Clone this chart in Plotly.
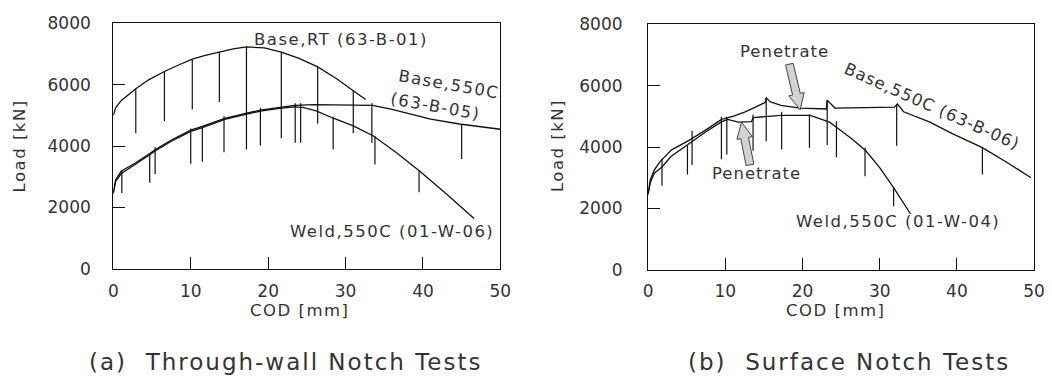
import math
import plotly.graph_objects as go

# ---------------- (a) Through-wall Notch Tests ----------------
a_rt_cod = [0, 0.3, 1.0, 2.0, 2.9, 4.5, 6.6, 8.5, 10.2, 12.0, 13.7, 15.5, 17.2, 19.5, 21.7, 24.0, 26.4, 28.8, 31.0, 32.6]
a_rt_load = [5000, 5250, 5480, 5700, 5870, 6150, 6430, 6650, 6830, 6960, 7070, 7170, 7230, 7200, 7060, 6860, 6580, 6200, 5800, 5520]

a_b550_cod = [0, 0.3, 1.0, 2.0, 2.9, 4.7, 5.5, 7.5, 10.0, 11.5, 14.4, 17.5, 19.2, 21.5, 23.4, 26.0, 29.0, 31.0, 33.5, 36.0, 38.7, 41.0, 44.7, 47.0, 50.0]
a_b550_load = [2500, 2900, 3180, 3330, 3460, 3760, 3900, 4200, 4520, 4640, 4900, 5090, 5180, 5260, 5330, 5350, 5350, 5340, 5330, 5200, 5030, 4880, 4720, 4640, 4550]

a_weld_cod = [0, 0.3, 1.0, 2.0, 2.9, 4.7, 5.5, 7.5, 10.0, 11.5, 14.4, 17.5, 19.2, 21.5, 23.4, 24.5, 26.2, 28.5, 31.0, 33.6, 36.5, 39.6, 43.0, 46.6]
a_weld_load = [2450, 2850, 3100, 3280, 3420, 3720, 3860, 4160, 4480, 4600, 4870, 5060, 5150, 5230, 5280, 5260, 5150, 4900, 4660, 4330, 3800, 3180, 2450, 1640]

a_unload_cod = [2.9, 6.6, 10.2, 13.7, 17.2, 21.7, 26.4, 31.0,
                1.1, 4.7, 5.4, 10.0, 11.5, 14.3, 19.0, 23.5, 24.2, 28.4, 33.4, 33.8, 39.5, 45.0]
a_unload_top = [5870, 6430, 6830, 7070, 7230, 7060, 6580, 5800,
                3190, 3760, 3960, 4570, 4640, 4970, 5250, 5400, 5400, 4960, 5400, 4330, 3180, 4720]
a_unload_bot = [4420, 4820, 5190, 5440, 3890, 4260, 4730, 4420,
                2470, 2810, 3090, 3430, 3490, 3800, 4020, 4110, 4110, 3890, 4110, 3400, 2500, 3580]

# ---------------- (b) Surface Notch Tests ----------------
b_b550_cod = [0, 0.3, 0.8, 1.5, 3.0, 5.3, 7.5, 9.5, 11.0, 12.5, 13.9, 15.2, 15.3, 15.8, 17.2, 19.7, 23.1, 23.2, 24.2, 28.0, 31.9, 32.3, 33.1, 36.5, 39.4, 43.3, 46.5, 49.6]
b_b550_load = [2500, 2950, 3250, 3510, 3900, 4220, 4560, 4900, 5000, 5140, 5300, 5460, 5610, 5480, 5360, 5270, 5240, 5530, 5270, 5290, 5300, 5400, 5150, 4810, 4440, 3980, 3500, 3000]

b_weld_cod = [0, 0.3, 0.8, 1.8, 3.0, 5.3, 7.5, 9.5, 10.3, 11.7, 13.4, 13.6, 17.2, 21.0, 23.5, 24.7, 26.5, 28.2, 30.0, 31.8, 34.0]
b_weld_load = [2450, 2850, 3150, 3350, 3700, 4110, 4500, 4820, 4900, 4810, 4830, 4960, 5030, 5030, 4810, 4590, 4250, 3880, 3330, 2680, 1820]

b_unload_cod = [1.8, 5.1, 5.7, 9.5, 10.2, 13.6, 15.3, 17.3, 20.9, 23.2, 24.4, 28.1, 31.8, 32.2, 43.3]
b_unload_top = [3610, 4040, 4530, 4990, 4990, 5060, 5610, 5150, 5060, 5520, 4840, 3980, 2680, 5400, 3980]
b_unload_bot = [2740, 3110, 3420, 3600, 3760, 3880, 4190, 3920, 3980, 4070, 3670, 3050, 2070, 4040, 3110]

# "Penetrate" arrows in panel (b): (tail COD, tail load, head COD, head load)
b_penetrate_arrows = [(18.3, 6700, 19.7, 5210), (13.2, 3420, 12.1, 4810)]

x_ticks = [0, 10, 20, 30, 40, 50]
y_ticks = [0, 2000, 4000, 6000, 8000]

FONT = "DejaVu Sans"
TXT = "#333333"
LINE = "#111111"

W, H = 1052, 389
A_X = (110, 503)
A_Y = (273, 14)   # pixel rows of load 0 and 8000
B_X = (653, 1045)
B_Y = (274, 15)


def ls(s, px=1.5):
    return '<span style="letter-spacing:%spx">%s</span>' % (px, s)


def segments(xs, tops, bots):
    X, Y = [], []
    for x, t, b in zip(xs, tops, bots):
        X += [x, x, None]
        Y += [t, b, None]
    return X, Y


fig = go.Figure()

line_style = dict(color=LINE, width=1.3)

for cod, load, ax in [(a_rt_cod, a_rt_load, "a"), (a_b550_cod, a_b550_load, "a"), (a_weld_cod, a_weld_load, "a"),
                      (b_b550_cod, b_b550_load, "b"), (b_weld_cod, b_weld_load, "b")]:
    fig.add_trace(go.Scatter(x=cod, y=load, mode="lines", line=line_style,
                             xaxis="x" if ax == "a" else "x2", yaxis="y" if ax == "a" else "y2",
                             showlegend=False, hoverinfo="skip"))

ux, uy = segments(a_unload_cod, a_unload_top, a_unload_bot)
fig.add_trace(go.Scatter(x=ux, y=uy, mode="lines", line=dict(color=LINE, width=1.2),
                         xaxis="x", yaxis="y", showlegend=False, hoverinfo="skip"))
ux, uy = segments(b_unload_cod, b_unload_top, b_unload_bot)
fig.add_trace(go.Scatter(x=ux, y=uy, mode="lines", line=dict(color=LINE, width=1.2),
                         xaxis="x2", yaxis="y2", showlegend=False, hoverinfo="skip"))

axis_common = dict(
    showgrid=False, zeroline=False, showline=True, mirror=True,
    linecolor="#111111", linewidth=1.3, ticks="inside", ticklen=12, tickwidth=1.3,
    tickcolor="#111111", tickfont=dict(family=FONT, size=17, color=TXT),
)

fig.update_layout(
    width=W, height=H,
    margin=dict(l=0, r=0, t=0, b=0),
    paper_bgcolor="white", plot_bgcolor="white",
    xaxis=dict(axis_common, range=[0, 50], tickvals=x_ticks, domain=[A_X[0] / W, A_X[1] / W],
               anchor="y", ticklabelstandoff=6),
    yaxis=dict(axis_common, range=[0, 8000], tickvals=y_ticks, domain=[(H - A_Y[0]) / H, (H - A_Y[1]) / H],
               anchor="x", ticklabelstandoff=18),
    xaxis2=dict(axis_common, range=[0, 50], tickvals=x_ticks, domain=[B_X[0] / W, B_X[1] / W],
                anchor="y2", ticklabelstandoff=6),
    yaxis2=dict(axis_common, range=[0, 8000], tickvals=y_ticks, domain=[(H - B_Y[0]) / H, (H - B_Y[1]) / H],
                anchor="x2", ticklabelstandoff=21),
)


def add_text(text, x, y, xref, yref, angle=0, size=16.5, sp=1.5):
    fig.add_annotation(text=ls(text, sp), x=x, y=y, xref=xref, yref=yref, showarrow=False,
                       textangle=angle, font=dict(family=FONT, size=size, color=TXT),
                       xanchor="center", yanchor="middle")


# Panel (a) labels
add_text("Base,RT (63-B-01)", 29.4, 7475, "x", "y")
add_text("Base,550C", 43.4, 6020, "x", "y", angle=10)
add_text("(63-B-05)", 41.6, 5280, "x", "y", angle=10)
add_text("Weld,550C (01-W-06)", 36.0, 1235, "x", "y")

# Panel (b) labels
add_text("Base,550C (63-B-06)", 36.8, 5330, "x2", "y2", angle=24, sp=1)
add_text("Weld,550C (01-W-04)", 32.4, 1570, "x2", "y2")
add_text("Penetrate", 17.7, 7120, "x2", "y2", sp=1)
add_text("Penetrate", 14.0, 3140, "x2", "y2", sp=1)


# Fat hollow arrows (drawn as outlined polygons on panel b)
def b_to_px(c, l):
    return (B_X[0] + c / 50 * (B_X[1] - B_X[0]), B_Y[0] - l / 8000 * (B_Y[0] - B_Y[1]))


def b_from_px(px, py):
    return ((px - B_X[0]) / (B_X[1] - B_X[0]) * 50, (B_Y[0] - py) / (B_Y[0] - B_Y[1]) * 8000)


for (tc, tl, hc, hl) in b_penetrate_arrows:
    tx, ty = b_to_px(tc, tl)
    hx, hy = b_to_px(hc, hl)
    L = math.hypot(hx - tx, hy - ty)
    ux_, uy_ = (hx - tx) / L, (hy - ty) / L
    nx, ny = -uy_, ux_
    sw, hw, hlen = 4.0, 8.0, 17.0
    nkx, nky = hx - ux_ * hlen, hy - uy_ * hlen
    pts = [(tx + nx * sw, ty + ny * sw), (nkx + nx * sw, nky + ny * sw), (nkx + nx * hw, nky + ny * hw),
           (hx, hy), (nkx - nx * hw, nky - ny * hw), (nkx - nx * sw, nky - ny * sw), (tx - nx * sw, ty - ny * sw)]
    dpts = [b_from_px(px, py) for px, py in pts]
    path = "M " + " L ".join("%.4f,%.2f" % p for p in dpts) + " Z"
    fig.add_shape(type="path", path=path, xref="x2", yref="y2",
                  line=dict(color="#444444", width=1), fillcolor="#d2d2d2", layer="above")

# Axis titles and captions (paper coords)
for cx in [15 / W, 561 / W]:
    fig.add_annotation(text=ls("Load [kN]", 1.5), x=cx, y=(H - 143) / H, xref="paper", yref="paper",
                       xanchor="center", yanchor="middle",
                       showarrow=False, textangle=-90, font=dict(family=FONT, size=16.5, color=TXT))
for cx in [299 / W, 843 / W]:
    fig.add_annotation(text=ls("COD [mm]", 1.5), x=cx, y=(H - 317) / H, xref="paper", yref="paper",
                       xanchor="center", yanchor="middle",
                       showarrow=False, font=dict(family=FONT, size=16.5, color=TXT))
fig.add_annotation(text=ls("(a)  Through-wall Notch Tests", 2), x=285 / W, y=(H - 371) / H,
                   xref="paper", yref="paper", xanchor="center", yanchor="middle",
                   showarrow=False, font=dict(family=FONT, size=23, color=TXT))
fig.add_annotation(text=ls("(b)  Surface Notch Tests", 2), x=857 / W, y=(H - 371) / H,
                   xref="paper", yref="paper", xanchor="center", yanchor="middle",
                   showarrow=False, font=dict(family=FONT, size=23, color=TXT))

fig.write_html("out.html", config={"displayModeBar": False},
               post_script="document.body.style.margin='0';")
